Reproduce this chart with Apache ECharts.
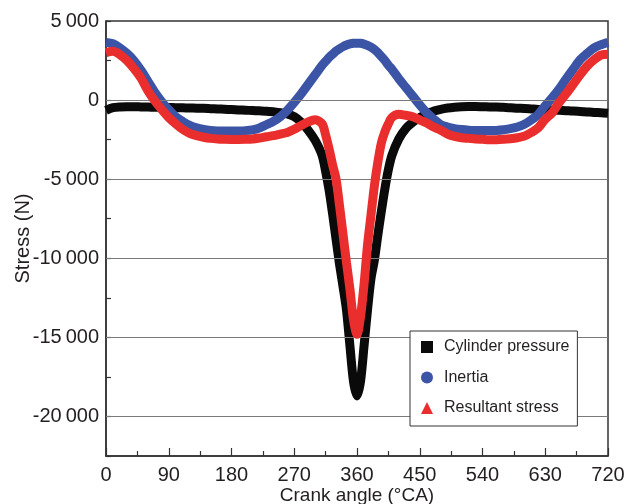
<!DOCTYPE html>
<html>
<head>
<meta charset="utf-8">
<script src="https://cdn.jsdelivr.net/npm/echarts@6/dist/echarts.min.js"></script>
<style>
  html, body { margin: 0; padding: 0; background: #fff; }
  #chart { width: 626px; height: 504px; }
</style>
</head>
<body>
<div id="chart"></div>
<script>
// crank angle samples (°CA), denser around TDC at 360
const angles = [
  0, 10, 20, 30, 40, 50, 60, 70, 80, 90, 100, 110, 120, 130, 140, 150, 160, 170, 180,
  190, 200, 210, 220, 230, 240, 250, 260, 270, 280, 290, 300, 310,
  315, 320, 325, 330, 335, 340, 345, 350, 355, 360, 365, 370, 375, 380, 385, 390, 395, 400, 405, 410,
  420, 430, 440, 450, 460, 470, 480, 490, 500, 510, 520, 530, 540, 550, 560, 570, 580, 590,
  600, 610, 620, 630, 640, 650, 660, 670, 680, 690, 700, 710, 720
];

const cylinderPressure = [
  -650, -480, -430, -420, -420, -430, -440, -450, -460, -470, -480, -490, -500, -510, -520, -540, -560, -580, -600,
  -620, -640, -660, -680, -700, -740, -790, -880, -1050, -1400, -1900, -2550, -3500,
  -4500, -5700, -7200, -8800, -10400, -11800, -13300, -15600, -17800, -18700, -17800, -15600, -13300, -11300, -10100, -8500, -7000, -5600, -4400, -3500,
  -2450, -1800, -1400, -1100, -850, -700, -580, -500, -450, -420, -410, -410, -420, -430, -440, -460, -480, -510,
  -530, -560, -590, -610, -630, -650, -670, -690, -720, -750, -780, -800, -830
];

const inertia = [
  3650, 3560, 3300, 2950, 2500, 1900, 1200, 500, -100, -620, -1050, -1350, -1600, -1760, -1860, -1920, -1950, -1960, -1960,
  -1950, -1930, -1880, -1760, -1560, -1350, -1050, -650, -150, 400, 1000, 1600, 2200,
  2450, 2700, 2900, 3100, 3250, 3380, 3480, 3550, 3590, 3600, 3590, 3540, 3460, 3350, 3200, 3000, 2750, 2500, 2200, 1950,
  1350, 800, 250, -300, -800, -1200, -1550, -1700, -1800, -1860, -1900, -1920, -1930, -1930, -1920, -1880, -1800, -1700,
  -1530, -1250, -900, -350, 150, 700, 1350, 1950, 2550, 2950, 3300, 3500, 3650
];

const resultantStress = [
  3000, 3080, 2870, 2500, 2000, 1400, 600, -50, -600, -1100, -1500, -1850, -2100, -2250, -2350, -2420, -2460, -2480, -2490,
  -2490, -2480, -2460, -2400, -2320, -2250, -2150, -2050, -1850, -1600, -1380, -1250, -1500,
  -2200, -3100, -4100, -5000, -6700, -8500, -10300, -12000, -13900, -14800, -13700, -11700, -9200, -7300, -5400, -3900, -2700, -2000, -1500, -1100,
  -900, -960, -1050, -1250, -1450, -1700, -1900, -2150, -2300, -2380, -2420, -2460, -2480, -2500, -2500, -2480, -2440, -2380,
  -2280, -2050, -1750, -1200, -800, -150, 400, 1000, 1600, 2150, 2550, 2850, 2900
];

const gridValues = [0, -5000, -10000, -15000, -20000];

const seriesNames = ['Cylinder pressure', 'Inertia', 'Resultant stress'];
const seriesColors = ['#0a0a0a', '#3b54a5', '#ea2e2d'];
const seriesIcons = ['rect', 'circle', 'triangle'];
const seriesValues = [cylinderPressure, inertia, resultantStress];

const font = 'Liberation Sans, Arial, sans-serif';

function fmtStress(v) {
  if (v % 5000 !== 0) return '';
  if (v === 0) return '0';
  const a = Math.abs(v);
  const s = Math.floor(a / 1000) + '\u2009' + String(a % 1000).padStart(3, '0');
  return (v < 0 ? '-' : '') + s;
}

const chart = echarts.init(document.getElementById('chart'));

const series = seriesNames.map((name, i) => ({
  name: name,
  type: 'line',
  smooth: 0.3,
  showSymbol: false,
  symbol: seriesIcons[i],
  color: seriesColors[i],
  lineStyle: { width: 9, color: seriesColors[i] },
  data: angles.map((a, k) => [a, seriesValues[i][k]]),
  z: 3 + i,
  animation: false
}));

// horizontal grid lines, kept under the curves
series.unshift({
  type: 'line',
  data: [],
  z: 1,
  silent: true,
  markLine: {
    silent: true,
    symbol: 'none',
    label: { show: false },
    lineStyle: { color: '#7a7a7a', width: 1, type: 'solid' },
    data: gridValues.map(v => ({ yAxis: v }))
  }
});

const option = {
  animation: false,
  grid: {
    left: 106, top: 21, right: 18, bottom: 48,
    containLabel: false,
    outerBoundsMode: 'none',
    show: true, borderColor: '#333', borderWidth: 1.5
  },
  legend: {
    orient: 'vertical',
    left: 410,
    top: 331,
    data: seriesNames.map((n, i) => ({ name: n, icon: seriesIcons[i] })),
    itemWidth: 12,
    itemHeight: 12,
    itemGap: 14.5,
    padding: [8, 8, 10, 11],
    borderColor: '#333',
    borderWidth: 1,
    backgroundColor: '#fff',
    textStyle: { fontFamily: font, fontSize: 16, color: '#231f20', lineHeight: 16, padding: [0, 0, 0, 6] },
    z: 10
  },
  xAxis: {
    type: 'value',
    min: 0,
    max: 720,
    interval: 90,
    name: 'Crank angle (°CA)',
    nameLocation: 'middle',
    nameGap: 30,
    nameMoveOverlap: false,
    nameTextStyle: { fontFamily: font, fontSize: 19, color: '#231f20' },
    axisLine: { onZero: false, lineStyle: { color: '#333', width: 1.5 } },
    axisTick: { inside: true, length: 8, lineStyle: { color: '#333', width: 1.2 } },
    minorTick: { show: true, splitNumber: 2, length: 5, lineStyle: { color: '#333', width: 1.2 } },
    axisLabel: { fontFamily: font, fontSize: 20, color: '#231f20', margin: 9 },
    splitLine: { show: false }
  },
  yAxis: {
    type: 'value',
    min: -22500,
    max: 5000,
    interval: 2500,
    name: 'Stress (N)',
    nameLocation: 'middle',
    nameGap: 73,
    nameMoveOverlap: false,
    nameTextStyle: { fontFamily: font, fontSize: 20, color: '#231f20' },
    axisLine: { show: true, onZero: false, lineStyle: { color: '#333', width: 1.5 } },
    axisTick: { show: true, inside: true, length: 5, lineStyle: { color: '#333', width: 1.2 } },
    axisLabel: { fontFamily: font, fontSize: 20, color: '#231f20', margin: 7, formatter: fmtStress },
    splitLine: { show: false }
  },
  series: series
};

chart.setOption(option);
</script>
</body>
</html>
